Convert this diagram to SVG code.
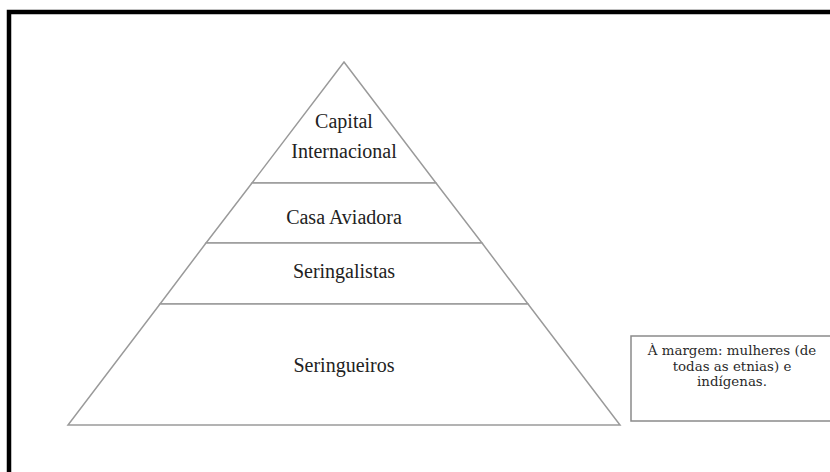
<svg xmlns="http://www.w3.org/2000/svg" width="830" height="472" viewBox="0 0 830 472">
  <style>
    .tier { fill: #ffffff; stroke: #9a9a9a; stroke-width: 1.5; stroke-linejoin: miter; }
    .lbl { font-family: "Liberation Serif", serif; font-size: 20px; fill: #222222; text-anchor: middle; }
    .note { font-family: "DejaVu Serif", serif; font-size: 13.4px; fill: #2a2a2a; text-anchor: middle; }
    .box { fill: #ffffff; stroke: #8a8a8a; stroke-width: 1.5; }
  </style>
  <rect x="0" y="0" width="830" height="472" fill="#ffffff"/>
  <rect x="9" y="12" width="840" height="480" fill="#ffffff" stroke="#000000" stroke-width="4.5"/>
  <g id="tier-capital">
    <polygon class="tier" points="344,62 436,183 252,183"/>
    <text class="lbl" x="344" y="128">Capital</text>
    <text class="lbl" x="344" y="158">Internacional</text>
  </g>
  <g id="tier-casa-aviadora">
    <polygon class="tier" points="252,183 436,183 482,243 206,243"/>
    <text class="lbl" x="344" y="224">Casa Aviadora</text>
  </g>
  <g id="tier-seringalistas">
    <polygon class="tier" points="206,243 482,243 528,304 160,304"/>
    <text class="lbl" x="344" y="278">Seringalistas</text>
  </g>
  <g id="tier-seringueiros">
    <polygon class="tier" points="160,304 528,304 620,425 68,425"/>
    <text class="lbl" x="344" y="372">Seringueiros</text>
  </g>
  <g id="note-margem">
    <rect class="box" x="631" y="336" width="220" height="85"/>
    <text class="note" x="732" y="355">À margem:  mulheres (de</text>
    <text class="note" x="732" y="370.5">todas as etnias) e</text>
    <text class="note" x="732" y="386">indígenas.</text>
  </g>
  <g id="connectors"/>
</svg>
